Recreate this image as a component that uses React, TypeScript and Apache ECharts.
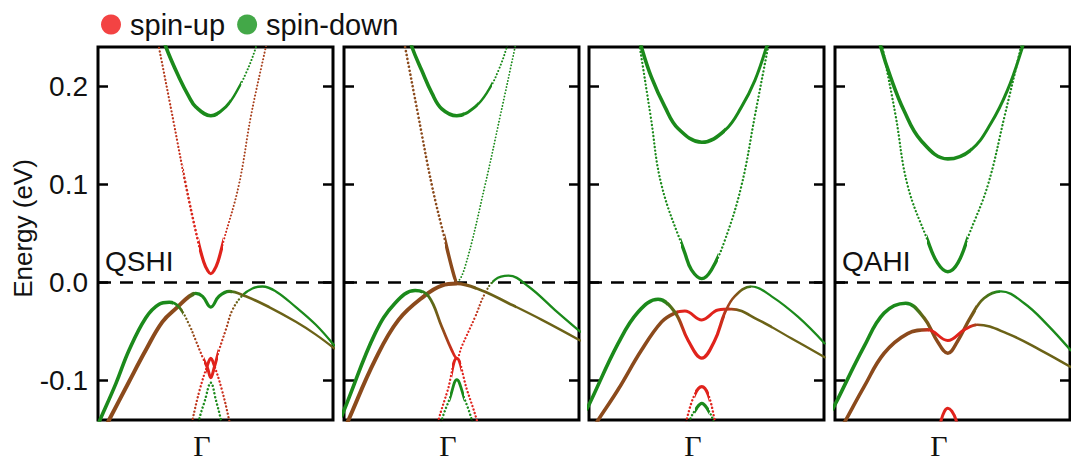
import React, { useEffect, useRef } from 'react';
import * as echarts from 'echarts';

// ---------- data (k relative to Γ, energy in eV) ----------
const LEGEND_NAMES = ['spin-up', 'spin-down'];
const PANEL_LABELS = ['QSHI', '', '', 'QAHI'];
const Y_TICKS = [-0.1, 0.0, 0.1, 0.2];
const K_TICKS = [0];
const K_TICK_LABEL = 'Γ';
const FERMI_LEVEL = 0;
const Y_NAME = 'Energy (eV)';

// Panel 1 (QSHI)
const p1CondUpper = [[-0.200,0.250],[-0.191,0.240],[-0.135,0.209],[-0.092,0.189],[-0.064,0.179],[0,0.170],[0.064,0.179],[0.106,0.193],[0.149,0.213],[0.191,0.239],[0.200,0.250]];
const p1CondLower = [[-0.230,0.250],[-0.221,0.240],[-0.157,0.162],[-0.106,0.099],[-0.055,0.043],[-0.030,0.021],[-0.013,0.012],[0,0.009],[0.013,0.012],[0.030,0.021],[0.055,0.043],[0.119,0.099],[0.171,0.170],[0.234,0.240],[0.243,0.250]];
const p1ValA = [[-0.490,-0.150],[-0.468,-0.138],[-0.404,-0.103],[-0.348,-0.069],[-0.277,-0.036],[-0.220,-0.022],[-0.177,-0.020],[-0.135,-0.025],[-0.092,-0.043],[-0.064,-0.059],[-0.035,-0.076],[-0.014,-0.087],[0,-0.097],[0.014,-0.087],[0.035,-0.069],[0.064,-0.048],[0.092,-0.028],[0.135,-0.013],[0.177,-0.006],[0.220,-0.004],[0.277,-0.009],[0.362,-0.025],[0.447,-0.043],[0.525,-0.064]];
const p1ValB = [[-0.085,-0.150],[-0.078,-0.140],[-0.047,-0.109],[-0.014,-0.084],[0,-0.077],[0.014,-0.084],[0.047,-0.109],[0.078,-0.140],[0.085,-0.150]];
const p1ValG = [[-0.055,-0.150],[-0.050,-0.140],[-0.025,-0.120],[0,-0.102],[0.022,-0.120],[0.043,-0.140],[0.048,-0.150]];
const p1ValC = [[-0.450,-0.148],[-0.433,-0.140],[-0.348,-0.101],[-0.277,-0.069],[-0.206,-0.040],[-0.142,-0.025],[-0.092,-0.014],[-0.064,-0.011],[-0.035,-0.014],[0,-0.025],[0.035,-0.014],[0.078,-0.009],[0.149,-0.014],[0.248,-0.025],[0.362,-0.040],[0.447,-0.053],[0.525,-0.067]];

// Panel 2
const p2CondUpper = [[-0.200,0.250],[-0.191,0.240],[-0.149,0.216],[-0.106,0.193],[-0.064,0.177],[0,0.170],[0.078,0.179],[0.135,0.196],[0.177,0.216],[0.213,0.240],[0.222,0.250]];
const p2CondLower = [[-0.230,0.252],[-0.220,0.240],[-0.164,0.170],[-0.106,0.099],[-0.050,0.043],[-0.013,0.008],[0,0.001],[0.035,0.016],[0.120,0.099],[0.185,0.170],[0.248,0.240],[0.258,0.252]];
const p2ValA = [[-0.490,-0.136],[-0.468,-0.123],[-0.348,-0.052],[-0.263,-0.021],[-0.177,-0.008],[-0.120,-0.014],[-0.064,-0.045],[-0.021,-0.069],[0,-0.077],[0.021,-0.065],[0.078,-0.035],[0.120,-0.011],[0.163,0.003],[0.220,0.007],[0.305,-0.004],[0.418,-0.028],[0.525,-0.050]];
const p2ValB = [[-0.085,-0.150],[-0.078,-0.140],[-0.038,-0.109],[0,-0.077],[0.043,-0.109],[0.085,-0.140],[0.092,-0.150]];
const p2ValG = [[-0.070,-0.150],[-0.064,-0.140],[-0.030,-0.118],[0,-0.099],[0.032,-0.118],[0.064,-0.140],[0.070,-0.150]];
const p2ValC = [[-0.490,-0.156],[-0.461,-0.140],[-0.348,-0.079],[-0.248,-0.038],[-0.135,-0.013],[-0.064,-0.003],[0,-0.001],[0.106,-0.008],[0.220,-0.021],[0.362,-0.038],[0.525,-0.059]];

// Panel 3
const p3CondUpper = [[-0.265,0.250],[-0.257,0.240],[-0.214,0.209],[-0.157,0.179],[-0.101,0.157],[0,0.143],[0.098,0.155],[0.169,0.179],[0.226,0.206],[0.275,0.240],[0.283,0.250]];
const p3CondLower = [[-0.272,0.250],[-0.264,0.240],[-0.218,0.170],[-0.171,0.099],[-0.072,0.030],[-0.044,0.013],[0,0.004],[0.041,0.013],[0.098,0.043],[0.169,0.099],[0.226,0.170],[0.282,0.240],[0.290,0.250]];
const p3ValA = [[-0.490,-0.129],[-0.477,-0.123],[-0.356,-0.062],[-0.271,-0.030],[-0.186,-0.017],[-0.115,-0.030],[-0.058,-0.059],[0,-0.077],[0.055,-0.059],[0.098,-0.031],[0.140,-0.014],[0.211,-0.004],[0.297,-0.014],[0.410,-0.035],[0.523,-0.062]];
const p3ValC = [[-0.460,-0.147],[-0.441,-0.140],[-0.356,-0.109],[-0.257,-0.069],[-0.171,-0.040],[-0.115,-0.031],[-0.072,-0.029],[0,-0.038],[0.069,-0.028],[0.126,-0.027],[0.240,-0.038],[0.382,-0.057],[0.523,-0.076]];
const p3ValR = [[-0.072,-0.150],[-0.065,-0.140],[-0.030,-0.114],[0,-0.106],[0.027,-0.114],[0.055,-0.140],[0.062,-0.150]];
const p3ValG = [[-0.058,-0.150],[-0.051,-0.140],[-0.022,-0.128],[0,-0.123],[0.022,-0.128],[0.048,-0.140],[0.055,-0.150]];

// Panel 4 (QAHI)
const p4CondUpper = [[-0.292,0.250],[-0.285,0.240],[-0.243,0.209],[-0.186,0.175],[-0.115,0.145],[0,0.126],[0.098,0.135],[0.183,0.162],[0.254,0.196],[0.318,0.240],[0.325,0.250]];
const p4CondLower = [[-0.285,0.250],[-0.278,0.240],[-0.222,0.170],[-0.171,0.099],[-0.086,0.043],[-0.044,0.020],[0,0.011],[0.043,0.020],[0.092,0.050],[0.170,0.099],[0.242,0.170],[0.311,0.240],[0.318,0.250]];
const p4ValA = [[-0.490,-0.129],[-0.477,-0.123],[-0.356,-0.065],[-0.271,-0.031],[-0.179,-0.021],[-0.101,-0.036],[-0.044,-0.060],[0,-0.072],[0.041,-0.060],[0.098,-0.035],[0.154,-0.016],[0.226,-0.009],[0.325,-0.021],[0.424,-0.043],[0.523,-0.069]];
const p4ValC = [[-0.450,-0.147],[-0.434,-0.140],[-0.356,-0.106],[-0.271,-0.072],[-0.171,-0.052],[-0.086,-0.048],[0,-0.059],[0.071,-0.048],[0.126,-0.043],[0.254,-0.052],[0.396,-0.069],[0.523,-0.086]];
const p4ValR = [[-0.035,-0.150],[-0.028,-0.140],[-0.014,-0.131],[0,-0.128],[0.017,-0.131],[0.035,-0.140],[0.042,-0.150]];

// ---------- styling ----------
const COLORS: Record<string, string> = {
  green: '#1b8a1b',
  red: '#e0231c',
  brown: '#8b4a1c',
  olive: '#6b6217',
  rbrown: '#a8401c',
  legendRed: '#f01414',
  legendGreen: '#14921a',
};
const SANS = '"Liberation Sans", Arial, Helvetica, sans-serif';
const SERIF = '"Liberation Serif", "Times New Roman", serif';

type CStop = [number, string];
interface Layer { w: number; dotted: boolean; ranges: number[][] }
interface Band { data: number[][]; colors: CStop[]; layers: Layer[] }

const solid = (w: number, ranges: number[][]): Layer => ({ w, dotted: false, ranges });
const dots = (w: number, ranges: number[][]): Layer => ({ w, dotted: true, ranges });
const ALL = [[-1, 1]];
const GREEN_ONLY: CStop[] = [[-1, 'green'], [1, 'green']];
const RED_ONLY: CStop[] = [[-1, 'red'], [1, 'red']];

const PANELS: Band[][] = [
  [
    { data: p1ValC, colors: [[-0.45, 'brown'], [-0.10, 'brown'], [-0.06, 'green'], [0.06, 'green'], [0.12, 'olive'], [0.525, 'olive']],
      layers: [solid(4, [[-1, -0.07]]), solid(3.2, [[-0.07, 0.09]]), solid(2.7, [[0.09, 0.25]]), solid(2.3, [[0.25, 1]])] },
    { data: p1ValA, colors: [[-0.49, 'green'], [-0.15, 'green'], [-0.11, 'olive'], [-0.06, 'rbrown'], [-0.025, 'red'], [0.025, 'red'], [0.07, 'rbrown'], [0.11, 'olive'], [0.15, 'green'], [0.525, 'green']],
      layers: [solid(3.6, [[-1, -0.16]]), solid(2.8, [[-0.16, -0.12]]), dots(2.3, [[-0.12, -0.03], [0.03, 0.14]]), solid(3, [[-0.03, 0.03]]), solid(2.3, [[0.14, 1]])] },
    { data: p1ValB, colors: [[-0.085, 'rbrown'], [-0.03, 'red'], [0.03, 'red'], [0.085, 'rbrown']],
      layers: [dots(2.3, [[-1, -0.02], [0.02, 1]]), solid(3, [[-0.02, 0.02]])] },
    { data: p1ValG, colors: GREEN_ONLY, layers: [dots(2.4, ALL)] },
    { data: p1CondLower, colors: [[-0.23, 'rbrown'], [-0.06, 'red'], [0.05, 'red'], [0.10, 'rbrown'], [0.243, 'rbrown']],
      layers: [dots(2.2, [[-1, -0.12]]), dots(2.7, [[-0.12, -0.05]]), solid(3.2, [[-0.05, 0.05]]), dots(2.0, [[0.05, 1]])] },
    { data: p1CondUpper, colors: GREEN_ONLY,
      layers: [solid(3.6, [[-1, 0.03]]), solid(3, [[0.03, 0.08]]), solid(2.4, [[0.08, 0.13]]), dots(2, [[0.13, 1]])] },
  ],
  [
    { data: p2ValC, colors: [[-0.49, 'brown'], [0.0, 'brown'], [0.1, 'olive'], [0.525, 'olive']],
      layers: [solid(4, [[-1, 0]]), solid(3.2, [[0, 0.08]]), solid(2.7, [[0.08, 0.25]]), solid(2.3, [[0.25, 1]])] },
    { data: p2ValA, colors: [[-0.49, 'green'], [-0.16, 'green'], [-0.09, 'olive'], [-0.04, 'rbrown'], [-0.01, 'red'], [0.05, 'red'], [0.11, 'rbrown'], [0.16, 'green'], [0.525, 'green']],
      layers: [solid(3.6, [[-1, -0.15]]), solid(2.8, [[-0.15, 0]]), dots(2.2, [[0, 0.15]]), solid(2.3, [[0.15, 1]])] },
    { data: p2ValB, colors: RED_ONLY,
      layers: [dots(2.3, [[-1, -0.02], [0.02, 1]]), solid(3, [[-0.02, 0.02]])] },
    { data: p2ValG, colors: GREEN_ONLY,
      layers: [dots(2.4, [[-1, -0.03], [0.03, 1]]), solid(2.8, [[-0.03, 0.03]])] },
    { data: p2CondLower, colors: [[-0.23, 'brown'], [0, 'brown'], [0.012, 'green'], [0.258, 'green']],
      layers: [dots(2.6, [[-1, -0.05]]), solid(3.4, [[-0.05, 0]]), dots(1.8, [[0, 1]])] },
    { data: p2CondUpper, colors: GREEN_ONLY,
      layers: [solid(3.6, [[-1, 0.03]]), solid(3, [[0.03, 0.09]]), solid(2.4, [[0.09, 0.15]]), dots(2, [[0.15, 1]])] },
  ],
  [
    { data: p3ValC, colors: [[-0.46, 'brown'], [-0.13, 'brown'], [-0.09, 'red'], [0.10, 'red'], [0.16, 'olive'], [0.523, 'olive']],
      layers: [solid(3.6, [[-1, -0.1]]), solid(3, [[-0.1, 0.12]]), solid(2.6, [[0.12, 0.3]]), solid(2.3, [[0.3, 1]])] },
    { data: p3ValA, colors: [[-0.49, 'green'], [-0.17, 'green'], [-0.11, 'olive'], [-0.07, 'red'], [0.07, 'red'], [0.11, 'rbrown'], [0.17, 'olive'], [0.23, 'green'], [0.523, 'green']],
      layers: [solid(3.6, [[-1, -0.15]]), solid(3.2, [[-0.15, 0.1]]), solid(2.6, [[0.1, 0.21]]), solid(2.2, [[0.21, 1]])] },
    { data: p3ValR, colors: RED_ONLY,
      layers: [dots(2.4, [[-1, -0.03], [0.03, 1]]), solid(3.2, [[-0.03, 0.03]])] },
    { data: p3ValG, colors: GREEN_ONLY,
      layers: [dots(2.4, [[-1, -0.03], [0.03, 1]]), solid(3.2, [[-0.03, 0.03]])] },
    { data: p3CondLower, colors: GREEN_ONLY,
      layers: [dots(2.3, [[-1, -0.09], [0.07, 1]]), solid(3.4, [[-0.09, 0.07]])] },
    { data: p3CondUpper, colors: GREEN_ONLY,
      layers: [solid(3.6, [[-1, 0.1]]), solid(3, [[0.1, 1]])] },
  ],
  [
    { data: p4ValA, colors: [[-0.49, 'green'], [-0.16, 'green'], [-0.1, 'olive'], [-0.06, 'brown'], [0.06, 'brown'], [0.13, 'olive'], [0.22, 'green'], [0.523, 'green']],
      layers: [solid(3.6, [[-1, -0.14]]), solid(3.4, [[-0.14, 0.12]]), solid(2.8, [[0.12, 0.22]]), solid(2.4, [[0.22, 1]])] },
    { data: p4ValC, colors: [[-0.45, 'brown'], [-0.12, 'brown'], [-0.07, 'red'], [0.09, 'red'], [0.15, 'olive'], [0.523, 'olive']],
      layers: [solid(3.6, [[-1, -0.08]]), solid(3, [[-0.08, 0.12]]), solid(2.6, [[0.12, 1]])] },
    { data: p4ValR, colors: RED_ONLY, layers: [solid(3, ALL)] },
    { data: p4CondLower, colors: GREEN_ONLY,
      layers: [dots(2.3, [[-1, -0.09], [0.08, 1]]), solid(3.4, [[-0.09, 0.08]])] },
    { data: p4CondUpper, colors: GREEN_ONLY,
      layers: [solid(3.6, [[-1, 0.1]]), solid(3, [[0.1, 1]])] },
  ],
];

const GRID_LEFTS = [98, 344, 589, 835];
const GRID_TOP = 47;
const GRID_W = 235;
const GRID_H = 373;
const K_MIN = -0.48;
const K_MAX = 0.52;
const E_MIN = -0.14;
const E_MAX = 0.24;

function hexRgb(h: string): number[] {
  const n = parseInt(h.slice(1), 16);
  return [(n >> 16) & 255, (n >> 8) & 255, n & 255];
}
function colorAt(stops: CStop[], k: number): number[] {
  if (k <= stops[0][0]) return hexRgb(COLORS[stops[0][1]]);
  for (let i = 1; i < stops.length; i++) {
    if (k <= stops[i][0]) {
      const [k0, c0] = stops[i - 1];
      const [k1, c1] = stops[i];
      const t = (k - k0) / (k1 - k0 || 1);
      const a = hexRgb(COLORS[c0]);
      const b = hexRgb(COLORS[c1]);
      return a.map((v, j) => Math.round(v + (b[j] - v) * t));
    }
  }
  return hexRgb(COLORS[stops[stops.length - 1][1]]);
}
function layerGradient(band: Band, layer: Layer) {
  const k0 = band.data[0][0];
  const k1 = band.data[band.data.length - 1][0];
  const inside = (k: number) => layer.ranges.some(([a, b]) => k >= a && k <= b);
  const ks = new Set<number>([k0, k1]);
  band.colors.forEach(([k]) => { if (k > k0 && k < k1) ks.add(k); });
  layer.ranges.forEach(([a, b]) => { [a, b].forEach((k) => { if (k > k0 && k < k1) ks.add(k); }); });
  const sorted = Array.from(ks).sort((a, b) => a - b);
  const eps = 1e-6;
  const stops: any[] = [];
  sorted.forEach((k) => {
    const c = colorAt(band.colors, k);
    const off = (k - k0) / (k1 - k0);
    const before = inside(k - eps) ? 1 : 0;
    const after = inside(k + eps) ? 1 : 0;
    stops.push({ offset: off, color: `rgba(${c[0]},${c[1]},${c[2]},${k === k0 ? after : before})` });
    if (before !== after && k !== k0 && k !== k1) {
      stops.push({ offset: off, color: `rgba(${c[0]},${c[1]},${c[2]},${after})` });
    }
  });
  return { type: 'linear', x: 0, y: 0, x2: 1, y2: 0, colorStops: stops, global: false };
}

function buildOption() {
  const grid = GRID_LEFTS.map((left) => ({
    left, top: GRID_TOP, width: GRID_W, height: GRID_H,
    show: true, borderColor: '#000', borderWidth: 3, backgroundColor: 'transparent',
  }));

  const xAxis = GRID_LEFTS.map((_, p) => ({
    gridIndex: p, type: 'value', min: K_MIN, max: K_MAX,
    axisLine: { show: false, onZero: false },
    axisTick: { show: false },
    splitLine: { show: false },
    axisLabel: {
      show: true,
      customValues: K_TICKS,
      formatter: (v: number) => (Math.abs(v) < 1e-9 ? K_TICK_LABEL : ''),
      fontFamily: SERIF, fontSize: 30, color: '#111', margin: 10,
      padding: [0, 18, 0, 0],
    },
  }));

  const yAxis: any[] = [];
  GRID_LEFTS.forEach((_, p) => {
    ['left', 'right'].forEach((pos) => {
      const ax: any = {
        gridIndex: p, type: 'value', min: E_MIN, max: E_MAX, position: pos,
        axisLine: { show: false, onZero: false },
        axisTick: { show: true, inside: true, length: 10, customValues: Y_TICKS, lineStyle: { color: '#000', width: 2.5 } },
        axisLabel: {
          show: p === 0 && pos === 'left',
          customValues: Y_TICKS,
          formatter: (v: number) => v.toFixed(1),
          fontFamily: SANS, fontSize: 28, color: '#111', margin: 10,
        },
        splitLine: { show: false },
      };
      if (p === 0 && pos === 'left') {
        ax.name = Y_NAME;
        ax.nameLocation = 'middle';
        ax.nameRotate = 90;
        ax.nameGap = 60;
        ax.nameTextStyle = { fontFamily: SANS, fontSize: 26, color: '#111', padding: [0, 0, 0, 10] };
      }
      yAxis.push(ax);
    });
  });

  const series: any[] = [];
  series.push({ name: LEGEND_NAMES[0], type: 'scatter', data: [], xAxisIndex: 0, yAxisIndex: 0, itemStyle: { color: COLORS.legendRed } });
  series.push({ name: LEGEND_NAMES[1], type: 'scatter', data: [], xAxisIndex: 0, yAxisIndex: 0, itemStyle: { color: COLORS.legendGreen } });

  PANELS.forEach((bands, p) => {
    let first = true;
    bands.forEach((band) => {
      band.layers.forEach((layer) => {
        const ser: any = {
          type: 'line', xAxisIndex: p, yAxisIndex: p * 2,
          data: band.data,
          smooth: 0.4,
          symbol: 'none', showSymbol: false, silent: true, clip: true,
          lineStyle: {
            color: layerGradient(band, layer), width: layer.w,
            type: layer.dotted ? [0.1, layer.w + 1.3] : 'solid',
            cap: 'round', join: 'round',
          },
          z: 3,
        };
        if (first) {
          ser.markLine = {
            silent: true, symbol: ['none', 'none'], label: { show: false },
            lineStyle: { color: '#000', width: 2.5, type: [13, 9] },
            data: [{ yAxis: FERMI_LEVEL }],
            z: 2,
          };
          first = false;
        }
        series.push(ser);
      });
    });
  });

  const graphic: any[] = [];
  PANEL_LABELS.forEach((t, p) => {
    if (!t) return;
    graphic.push({
      type: 'text', left: GRID_LEFTS[p] + 7, top: 247,
      style: { text: t, fontFamily: SANS, fontSize: 28, fill: '#111' },
      z: 10,
    });
  });

  return {
    animation: false,
    backgroundColor: '#fff',
    textStyle: { fontFamily: SANS },
    legend: {
      data: LEGEND_NAMES, left: 96, top: 5, icon: 'circle', itemWidth: 20, itemHeight: 20,
      itemGap: 12, selectedMode: false,
      textStyle: { fontFamily: SANS, fontSize: 29, color: '#111', padding: [0, 0, 0, 4] },
    },
    grid, xAxis, yAxis, series, graphic,
  };
}

export default function App() {
  const ref = useRef<HTMLDivElement>(null);
  useEffect(() => {
    if (!ref.current) return;
    const chart = echarts.init(ref.current, undefined, { renderer: 'svg' });
    chart.setOption(buildOption() as any);
    return () => chart.dispose();
  }, []);
  return (
    <div
      ref={ref}
      style={{ position: 'absolute', left: 0, top: 0, width: 1071, height: 466, background: '#fff' }}
    />
  );
}
